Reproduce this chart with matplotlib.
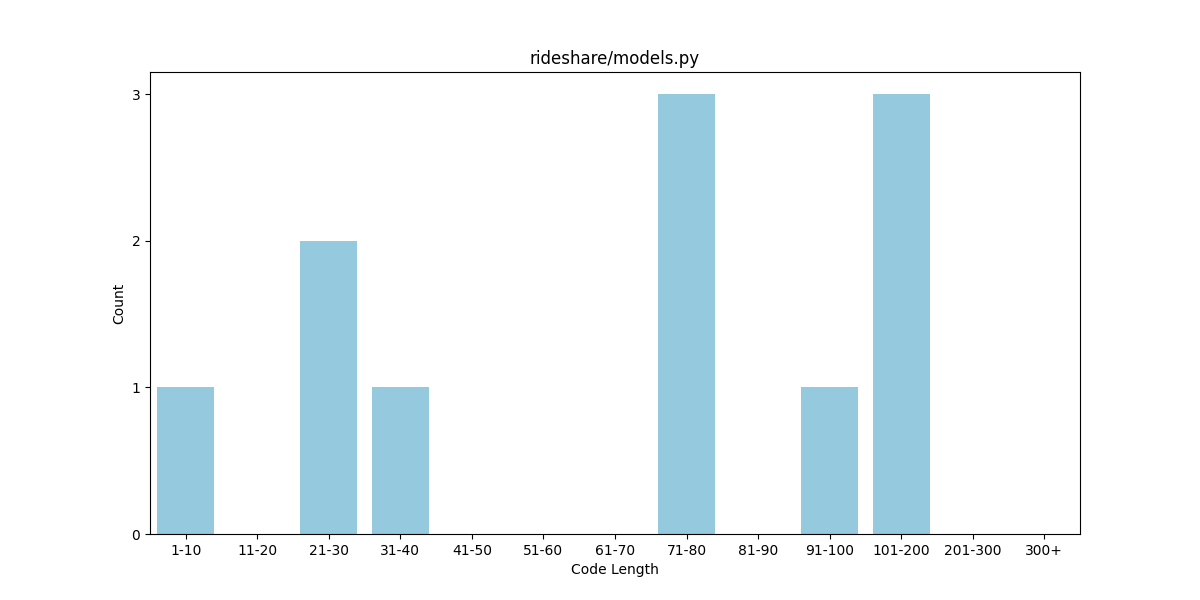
import matplotlib
matplotlib.use('Agg')
import matplotlib.pyplot as plt
import seaborn as sns
from matplotlib.ticker import MaxNLocator

# Data
bins = ['1-10', '11-20', '21-30', '31-40', '41-50', '51-60', '61-70',
        '71-80', '81-90', '91-100', '101-200', '201-300', '300+']
counts = [1, 0, 2, 1, 0, 0, 0, 3, 0, 1, 3, 0, 0]

fig, ax = plt.subplots(figsize=(12, 6), dpi=100)
sns.barplot(x=bins, y=counts, color='skyblue', ax=ax)

ax.set_title('rideshare/models.py')
ax.set_xlabel('Code Length')
ax.set_ylabel('Count')
ax.yaxis.set_major_locator(MaxNLocator(integer=True))

plt.savefig('out.png')
